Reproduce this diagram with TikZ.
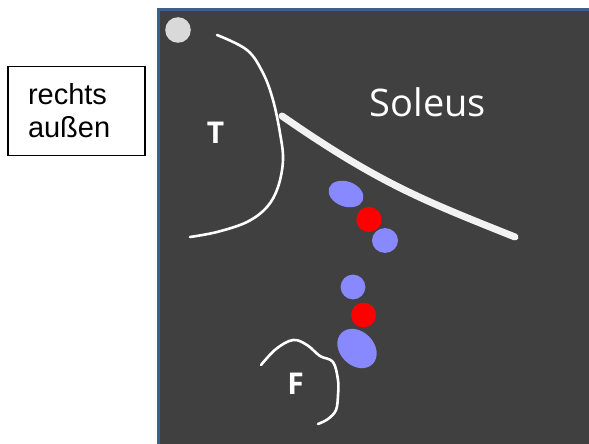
\documentclass[tikz,border=0pt]{standalone}
\usepackage{fontspec}
\setmainfont{Liberation Sans}
\newfontfamily\panelfont{Open Sans}
\definecolor{panelgrey}{HTML}{404040}
\definecolor{panelrim}{HTML}{3C5F8E}
\definecolor{bone}{HTML}{D9D9D9}
\definecolor{fascia}{HTML}{F2F2F2}
\definecolor{vein}{HTML}{8888FF}
\definecolor{artery}{HTML}{FF0000}
\tikzset{
  labelbox/.style={draw=black, line width=1.3pt, fill=white, minimum width=137pt,
    minimum height=89pt, inner xsep=20pt, text width=97pt, align=left,
    font=\fontsize{29}{33}\selectfont},
  outline/.style={draw=white, line width=2.6pt, line cap=round},
  bonetext/.style={text=white, font=\panelfont\bfseries\fontsize{30}{30}\selectfont, anchor=base, inner sep=0pt},
  muscletext/.style={text=white, font=\panelfont\fontsize{38}{38}\selectfont, anchor=base, inner sep=0pt}
}
\begin{document}
\begin{tikzpicture}[x=1pt, y=-1pt]
  \useasboundingbox (0,0) rectangle (589,444);
  \clip (0,0) rectangle (589,444);

  % dark cross-section panel with its blue rim
  \fill[panelgrey] (158.5,9.5) rectangle (600,460);
  \draw[panelrim, line width=3pt] (158.5,460) -- (158.5,9.5) -- (600,9.5);

  % orientation label
  \node[labelbox] (side) at (76.5,111) {rechts\\außen};

  % marker dot
  \fill[bone] (178,30) circle [radius=12.8pt];

  % tibia outline
  \draw[outline] plot[smooth, tension=0.6] coordinates {
    (217,35) (247,50) (263,73) (273,100) (280,133) (283,160)
    (278,187) (267,207) (247,222) (217,232) (190,237)};
  \node[bonetext] (tibia) at (215.5,143) {T};

  % fibula outline
  \draw[outline] plot[smooth, tension=0.6] coordinates {
    (261,365) (276,349) (293,340) (307,345) (320,356) (333,362)
    (338,380) (338,395) (336,410) (328,419) (318,424)};
  \node[bonetext] (fibula) at (295.5,394) {F};

  % deep fascia under soleus
  \draw[fascia, line width=7pt, line cap=round]
    (282,116) .. controls (380,184) and (425,201) .. (515,237);
  \node[muscletext] (soleus) at (428,116.5) {Soleus};

  % posterior tibial bundle
  \fill[vein, rotate around={-20:(346,194)}] (346,194) ellipse [x radius=18pt, y radius=12.5pt];
  \fill[artery] (369,219.5) circle [radius=12.6pt];
  \fill[vein] (385,240.5) ellipse [x radius=13pt, y radius=12.4pt];

  % fibular bundle
  \fill[vein] (353,287) circle [radius=12.4pt];
  \fill[artery] (363.5,315) circle [radius=12.4pt];
  \fill[vein, rotate around={-45:(357,348.5)}] (357,348.5) ellipse [x radius=22pt, y radius=17pt];
\end{tikzpicture}
\end{document}
